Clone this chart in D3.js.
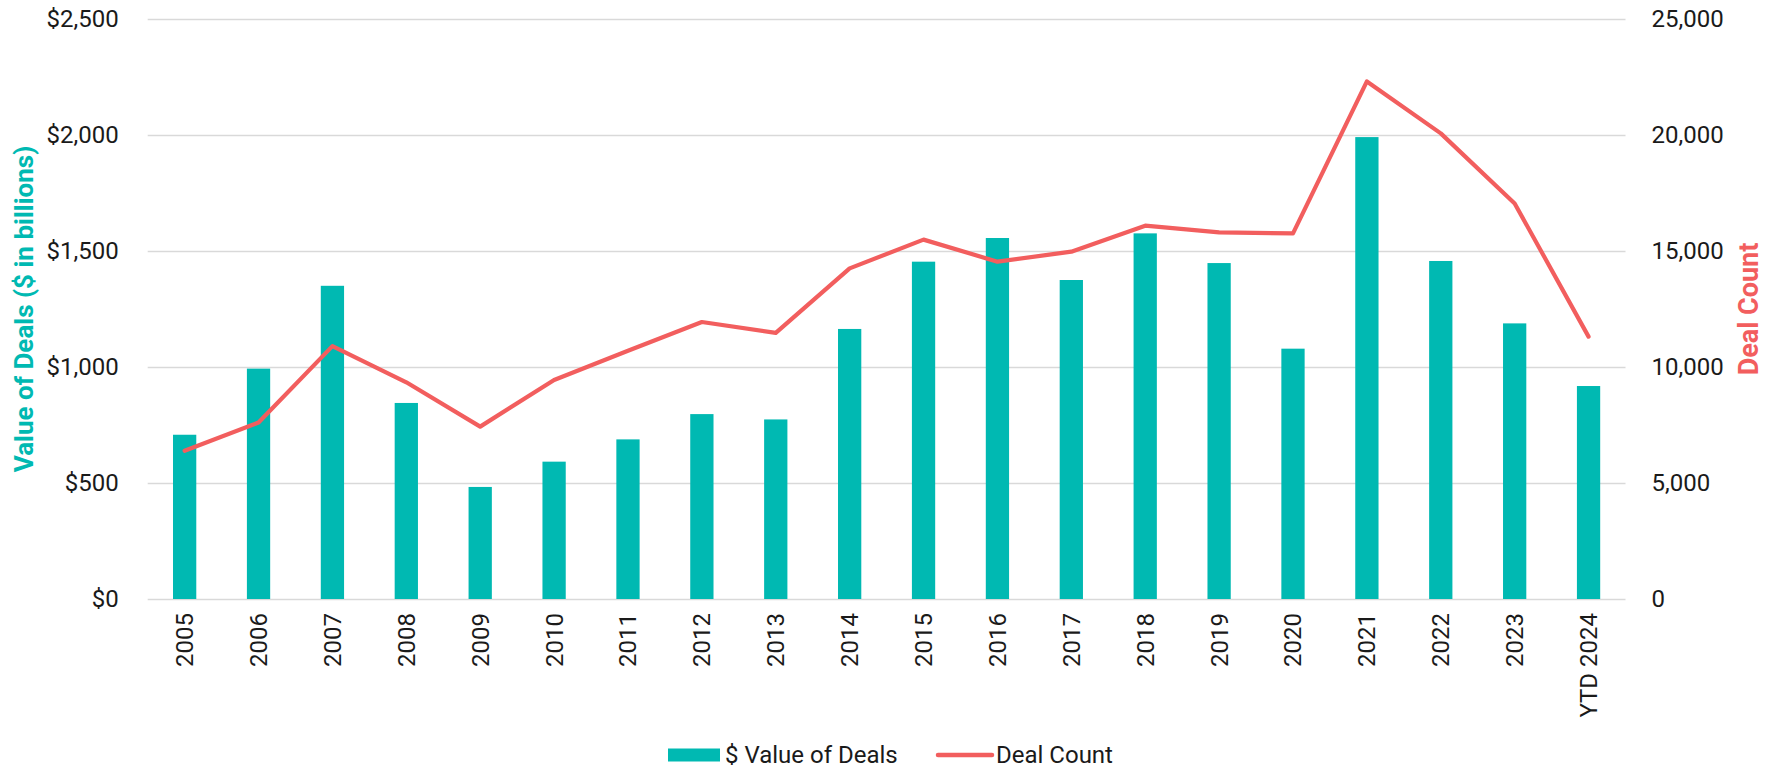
<!DOCTYPE html>
<html>
<head>
<meta charset="utf-8">
<script src="https://cdn.jsdelivr.net/npm/d3@7"></script>
<style>
  html, body { margin: 0; padding: 0; background: #ffffff; }
  svg { display: block; font-family: Roboto, "Noto Sans", sans-serif; }
</style>
</head>
<body>
<svg id="chart" width="1775" height="771"></svg>
<script>
// ---- Data ----
const categories = ["2005","2006","2007","2008","2009","2010","2011","2012","2013","2014",
                    "2015","2016","2017","2018","2019","2020","2021","2022","2023","YTD 2024"];
const dealValues = [708, 993, 1350, 845, 483, 592, 688, 797, 774, 1164,
                    1454, 1556, 1375, 1576, 1448, 1079, 1991, 1457, 1188, 918];
const dealCounts = [6390, 7610, 10900, 9340, 7430, 9440, 10700, 11940, 11470, 14250,
                    15490, 14540, 14970, 16090, 15800, 15760, 22310, 20070, 17050, 11310];
const leftTicks = [0, 500, 1000, 1500, 2000, 2500];
const rightTicks = [0, 5000, 10000, 15000, 20000, 25000];

const teal = "#00B9B2";
const red = "#F25E5E";
const grid = "#D9D9D9";
const textColor = "#1a1a1a";

const svg = d3.select("#chart");
const plot = { left: 147.7, right: 1625.5, top: 19, bottom: 599 };

const x = d3.scaleBand().domain(categories).range([plot.left, plot.right]).padding(0);
const yL = d3.scaleLinear().domain([0, 2500]).range([plot.bottom, plot.top]);
const yR = d3.scaleLinear().domain([0, 25000]).range([plot.bottom, plot.top]);

// Gridlines
const gGrid = svg.append("g").attr("transform", `translate(${plot.left},0)`)
  .call(d3.axisLeft(yL).tickValues(leftTicks).tickSize(-(plot.right - plot.left)).tickFormat(""));
gGrid.select(".domain").remove();
gGrid.selectAll(".tick line").attr("stroke", grid).attr("stroke-width", 1.6);

// Left axis labels
const gL = svg.append("g").attr("transform", `translate(${plot.left},0)`)
  .call(d3.axisLeft(yL).tickValues(leftTicks).tickSize(0).tickPadding(29)
    .tickFormat(d => "$" + d3.format(",")(d)));
gL.select(".domain").remove();
gL.selectAll("text").attr("font-size", 24).attr("fill", textColor).attr("font-family", "Roboto");

// Right axis labels
const gR = svg.append("g").attr("transform", `translate(${plot.right},0)`)
  .call(d3.axisRight(yR).tickValues(rightTicks).tickSize(0).tickPadding(26)
    .tickFormat(d3.format(",")));
gR.select(".domain").remove();
gR.selectAll("text").attr("font-size", 24).attr("fill", textColor).attr("font-family", "Roboto");

// Bars
const barW = x.bandwidth() * 0.315;
svg.append("g").selectAll("rect").data(categories).join("rect")
  .attr("x", (d) => x(d) + x.bandwidth() / 2 - barW / 2)
  .attr("y", (d, i) => yL(dealValues[i]))
  .attr("width", barW)
  .attr("height", (d, i) => yL(0) - yL(dealValues[i]))
  .attr("fill", teal);

// Line
const line = d3.line()
  .x((d, i) => x(categories[i]) + x.bandwidth() / 2)
  .y(d => yR(d));
svg.append("path").datum(dealCounts)
  .attr("d", line)
  .attr("fill", "none")
  .attr("stroke", red)
  .attr("stroke-width", 4.2)
  .attr("stroke-linejoin", "round")
  .attr("stroke-linecap", "round");

// X axis labels (rotated)
const gX = svg.append("g").attr("transform", `translate(0,${plot.bottom})`)
  .call(d3.axisBottom(x).tickSize(0).tickPadding(0));
gX.select(".domain").remove();
gX.selectAll("text")
  .attr("font-size", 24).attr("fill", textColor).attr("font-family", "Roboto")
  .attr("transform", "rotate(-90)")
  .attr("x", -14).attr("y", 0).attr("dy", "0.35em")
  .attr("text-anchor", "end");

// Axis titles
svg.append("text")
  .attr("transform", `translate(24,${(plot.top + plot.bottom) / 2}) rotate(-90)`)
  .attr("text-anchor", "middle").attr("dominant-baseline", "central")
  .attr("font-size", 26).attr("font-weight", "bold").attr("fill", teal)
  .text("Value of Deals ($ in billions)");

svg.append("text")
  .attr("transform", `translate(1749,${(plot.top + plot.bottom) / 2}) rotate(-90)`)
  .attr("text-anchor", "middle").attr("dominant-baseline", "central")
  .attr("font-size", 27).attr("font-weight", "bold").attr("fill", red)
  .text("Deal Count");

// Legend
const legY = 755;
const leg = svg.append("g");
leg.append("rect").attr("x", 668).attr("y", legY - 6.5).attr("width", 52).attr("height", 13).attr("fill", teal);
leg.append("text").attr("x", 725).attr("y", legY).attr("dy", "0.35em")
  .attr("font-size", 24).attr("fill", textColor).text("$ Value of Deals");
leg.append("line").attr("x1", 938).attr("x2", 992).attr("y1", legY).attr("y2", legY)
  .attr("stroke", red).attr("stroke-width", 4.5).attr("stroke-linecap", "round");
leg.append("text").attr("x", 996).attr("y", legY).attr("dy", "0.35em")
  .attr("font-size", 24).attr("fill", textColor).text("Deal Count");
</script>
</body>
</html>
